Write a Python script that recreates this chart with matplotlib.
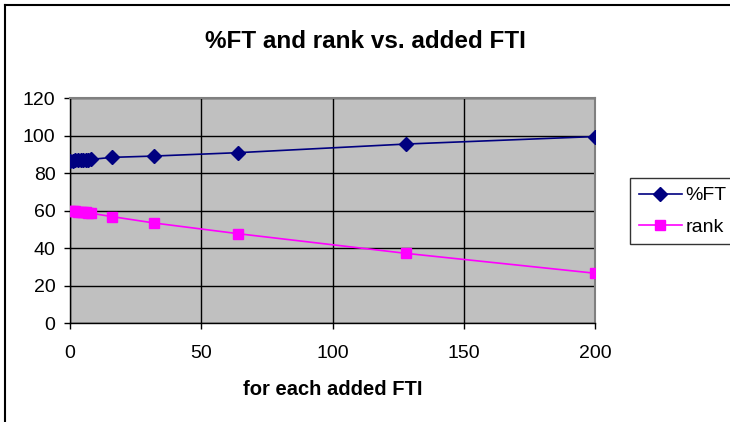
import matplotlib
matplotlib.use("Agg")
import matplotlib.pyplot as plt
from matplotlib.lines import Line2D

x_added = [0, 1, 2, 3, 4, 5, 6, 7, 8, 16, 32, 64, 128, 200]
pct_ft = [86.7, 86.8, 86.9, 87.0, 87.1, 87.1, 87.2, 87.3, 87.4, 88.5, 89.2, 91.0, 95.6, 99.6]
rank = [60.1, 59.9, 59.8, 59.6, 59.4, 59.2, 59.1, 58.9, 58.7, 56.9, 53.5, 47.8, 37.3, 26.7]
x_ticks = [0, 50, 100, 150, 200]
y_ticks = [0, 20, 40, 60, 80, 100, 120]

plt.rcParams['font.family'] = ['Liberation Sans', 'DejaVu Sans']

fig = plt.figure(figsize=(7.3, 4.22), dpi=100)
fig.patch.set_facecolor('white')
ax = fig.add_axes([70/730, 1-323.3/422, (595-70)/730, (323.3-98.3)/422])
ax.set_facecolor('#C0C0C0')

ax.plot(x_added, pct_ft, color='#000080', lw=1.2, marker='D', ms=7,
        markerfacecolor='#000080', markeredgecolor='#000080', label='%FT', zorder=3)
ax.plot(x_added, rank, color='#FF00FF', lw=1.2, marker='s', ms=7.5,
        markerfacecolor='#FF00FF', markeredgecolor='#FF00FF', label='rank', zorder=3)

ax.set_xlim(0, 200)
ax.set_ylim(0, 120)
ax.set_xticks(x_ticks)
ax.set_yticks(y_ticks)
ax.grid(True, color='black', lw=1.0)
ax.set_axisbelow(True)
for s in ['top', 'right']:
    ax.spines[s].set_color('#808080')
    ax.spines[s].set_linewidth(1.5)
for s in ['left', 'bottom']:
    ax.spines[s].set_color('black')
    ax.spines[s].set_linewidth(1.0)
ax.tick_params(axis='x', direction='out', length=4.5, width=1, pad=11, labelsize=14)
ax.tick_params(axis='y', direction='out', length=4.5, width=1, pad=6, labelsize=14)

ax.set_xlabel('for each added FTI', fontsize=14.5, fontweight='bold', labelpad=13)
fig.text(0.5, 1-41/422, '%FT and rank vs. added FTI', ha='center', va='center',
         fontsize=17.5, fontweight='bold')

leg = fig.legend(loc='upper left', bbox_to_anchor=(630/730, 1-178/422),
                 frameon=True, fancybox=False, edgecolor='black', fontsize=14,
                 handlelength=2.2, borderpad=0.45, labelspacing=0.7, handletextpad=0.2,
                 borderaxespad=0)
leg.get_frame().set_linewidth(1.0)

fig.add_artist(Line2D([5/730, 5/730], [0, 1-5/422], color='black', lw=1.5,
                      transform=fig.transFigure))
fig.add_artist(Line2D([5/730, 1], [1-5/422, 1-5/422], color='black', lw=1.5,
                      transform=fig.transFigure))

fig.savefig('out.png', dpi=100)
